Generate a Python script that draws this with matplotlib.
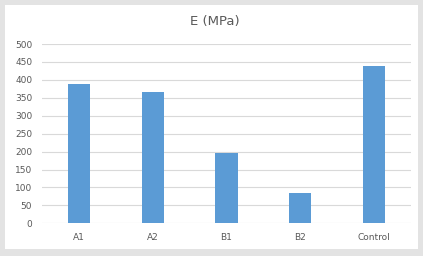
import matplotlib.pyplot as plt

categories = ['A1', 'A2', 'B1', 'B2', 'Control']
values = [389, 366, 197, 84, 438]
yticks = [0, 50, 100, 150, 200, 250, 300, 350, 400, 450, 500]

fig = plt.figure(figsize=(4.23, 2.56), dpi=100)
fig.patch.set_facecolor('#e3e3e3')
# white chart panel inside the grey frame
bg = fig.add_axes([5 / 423, 7 / 256, 413 / 423, 244 / 256])
bg.set_facecolor('white')
bg.set_xticks([])
bg.set_yticks([])
for s in bg.spines.values():
    s.set_visible(False)

ax = fig.add_axes([42 / 423, 1 - 223.3 / 256, 369 / 423, 179.3 / 256])
ax.set_facecolor('none')
x = range(len(categories))
ax.bar(x, values, width=0.3, color='#5b9bd5', zorder=3)

ax.set_xlim(-0.5, len(categories) - 0.5)
ax.set_ylim(0, 500)
ax.set_yticks(yticks)
ax.set_xticks(list(x))
ax.set_xticklabels(categories)
ax.grid(axis='y', color='#d9d9d9', linewidth=0.8, zorder=0)
for s in ax.spines.values():
    s.set_visible(False)
ax.tick_params(length=0, labelsize=6.5, colors='#595959')
ax.tick_params(axis='y', pad=7)
ax.tick_params(axis='x', pad=7)

fig.text(215 / 423, 1 - 22 / 256, 'E (MPa)', ha='center', va='center',
         fontsize=9.5, color='#595959')

fig.savefig('out.png', dpi=100, facecolor=fig.get_facecolor())
